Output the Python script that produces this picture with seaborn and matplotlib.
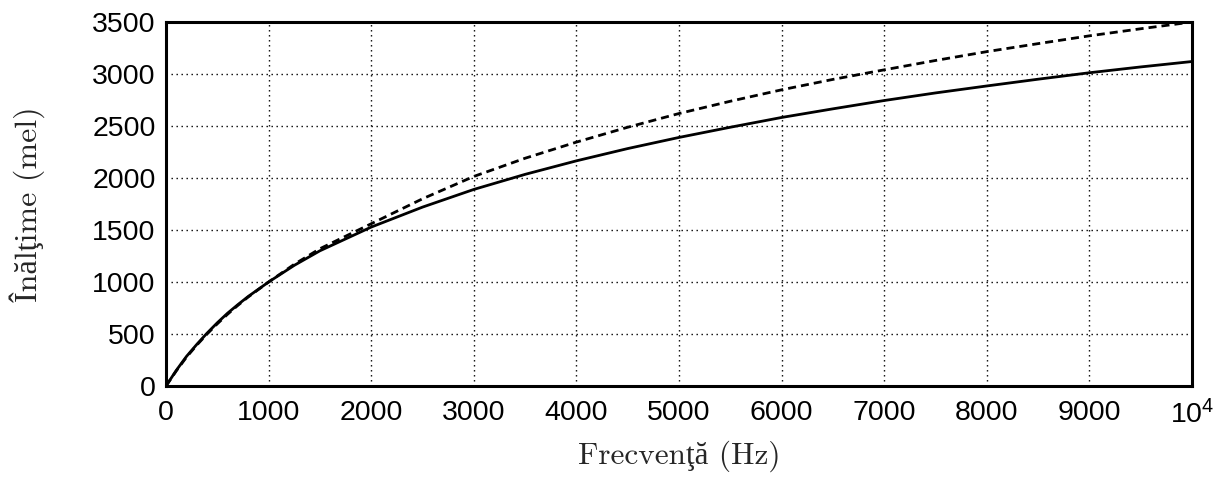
import matplotlib
matplotlib.use("Agg")
import matplotlib.pyplot as plt
import seaborn as sns
import pandas as pd

# Frequency samples (Hz) and the two pitch curves (mel)
freq_hz = [0, 100, 200, 300, 400, 500, 600, 700, 800, 1000, 1250, 1500,
           2000, 2500, 3000, 3500, 4000, 4500, 5000, 5500, 6000, 6500,
           7000, 7500, 8000, 8500, 9000, 9500, 10000]
mel_solid = [0, 150, 285, 400, 508, 608, 700, 782, 860, 1000, 1160, 1300,
             1528, 1720, 1890, 2035, 2165, 2283, 2390, 2488, 2582, 2665,
             2745, 2818, 2885, 2950, 3012, 3068, 3120]
mel_dashed = [0, 145, 278, 393, 500, 598, 690, 775, 855, 1000, 1170, 1320,
              1560, 1800, 2015, 2190, 2345, 2488, 2620, 2738, 2848, 2948,
              3040, 3130, 3215, 3292, 3367, 3435, 3500]

x_ticks = [0, 1000, 2000, 3000, 4000, 5000, 6000, 7000, 8000, 9000, 10000]
x_tick_labels = ["0", "1000", "2000", "3000", "4000", "5000", "6000",
                 "7000", "8000", "9000", r"$\mathregular{10^4}$"]
y_ticks = [0, 500, 1000, 1500, 2000, 2500, 3000, 3500]

df = pd.DataFrame({"f": freq_hz, "solid": mel_solid, "dashed": mel_dashed})

sns.set_style("white")
plt.rcParams["font.family"] = ["Liberation Sans", "DejaVu Sans"]
plt.rcParams["mathtext.fontset"] = "custom"
plt.rcParams["mathtext.rm"] = "Liberation Sans"

fig = plt.figure(figsize=(12.23, 5.04), dpi=100)
ax = fig.add_axes([166 / 1223, 1 - 386 / 504, (1192 - 166) / 1223, (386 - 22) / 504])

sns.lineplot(data=df, x="f", y="solid", ax=ax, color="black", linewidth=2.0)
sns.lineplot(data=df, x="f", y="dashed", ax=ax, color="black", linewidth=2.0)
ax.lines[-1].set_linestyle((0, (2.9, 1.8)))

ax.set_xlim(0, 10000)
ax.set_ylim(0, 3500)
ax.set_xticks(x_ticks)
ax.set_xticklabels(x_tick_labels)
ax.set_yticks(y_ticks)

ax.grid(True, color="black", linestyle=(0, (1, 2.6)), linewidth=1.0)
for s in ax.spines.values():
    s.set_visible(True)
    s.set_color("black")
    s.set_linewidth(2.2)

ax.tick_params(axis="both", direction="out", length=4, width=2, color="black",
               labelsize=20.5, labelcolor="black", pad=3.5)
ax.tick_params(axis="x", pad=6)

serif = ["cmr10", "Liberation Serif", "DejaVu Serif"]
ax.set_xlabel("Frecvenţă (Hz)", fontsize=22.5, family=serif, labelpad=8)
ax.set_ylabel("Înălţime (mel)", fontsize=23, family=serif, labelpad=34)

fig.savefig("out.png", dpi=100, facecolor="white")
